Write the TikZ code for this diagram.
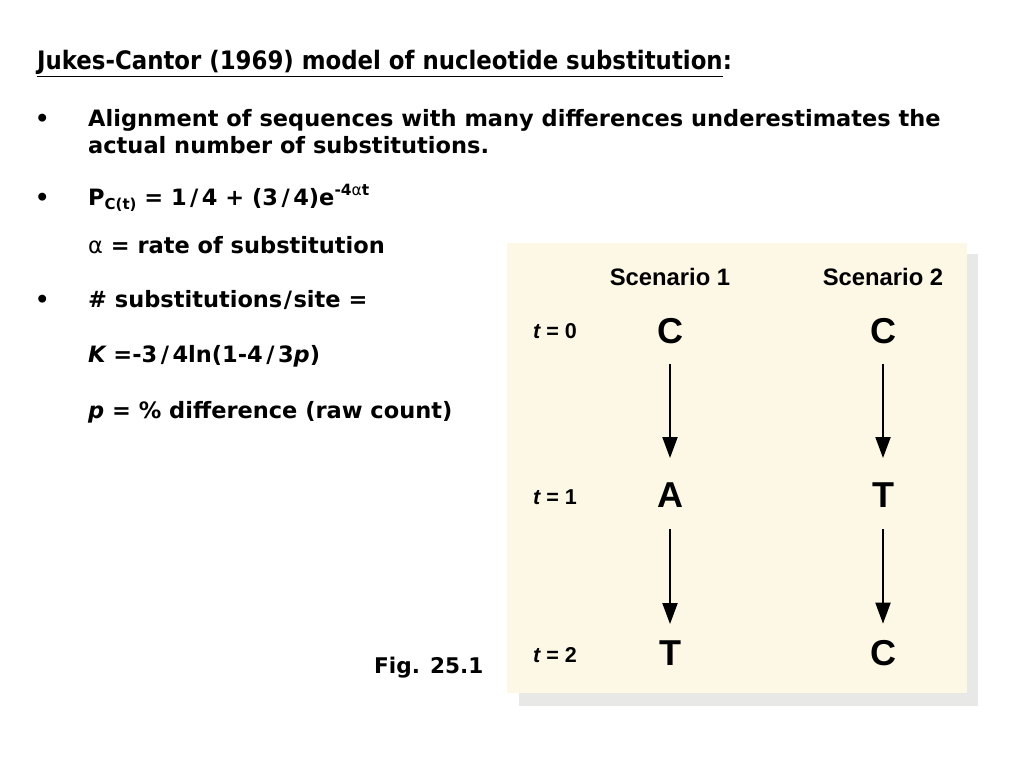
\documentclass[tikz,border=0pt]{standalone}
\usepackage{fontspec}
\setmainfont{DejaVu Sans}
\newfontfamily\titlefont{DejaVu Sans Condensed}
\newfontfamily\figfont{Liberation Sans}
\usetikzlibrary{arrows.meta}
\definecolor{cream}{RGB}{253,247,229}
\definecolor{shadowgrey}{RGB}{232,232,230}
\newcommand{\wslash}{\kern3.5pt/\kern3.5pt}
\begin{document}
\begin{tikzpicture}[x=1pt,y=-1pt,
  body/.style={anchor=base west, inner sep=0pt, font=\fontsize{22.5}{26}\selectfont\bfseries},
  titletext/.style={anchor=base west, inner sep=0pt, font=\titlefont\fontsize{25.4}{28}\selectfont\bfseries},
  figlab/.style={anchor=base west, inner sep=0pt, font=\fontsize{21.6}{24}\selectfont\bfseries},
  scen/.style={anchor=base, inner sep=0pt, font=\figfont\fontsize{23.8}{26}\selectfont\bfseries},
  tlab/.style={anchor=base west, inner sep=0pt, font=\figfont\fontsize{21.5}{24}\selectfont\bfseries},
  nuc/.style={anchor=base, inner sep=0pt, text depth=0pt, font=\figfont\fontsize{36}{38}\selectfont\bfseries},
  subst/.style={draw=black, line width=2pt, -{Triangle[length=21pt,width=15pt]}}]
\useasboundingbox (0,0) rectangle (1024,768);
\fill[white] (0,0) rectangle (1024,768);
% text
\node[titletext] (title) at (37,70) {\underline{Jukes-Cantor (1969) model of nucleotide substitution}:};
\node[body] (b1) at (35,126) {•};
\node[body] (l1) at (88,126) {Alignment of sequences with many differences underestimates the};
\node[body] (l2) at (88,153) {actual number of substitutions.};
\node[body] (b2) at (35,205) {•};
\node[body] (l3) at (88,205) {P\raisebox{-0.35ex}{\fontsize{15}{15}\selectfont C(t)} = 1\wslash 4 + (3\wslash 4)e\raisebox{0.42em}{\fontsize{15.5}{16}\selectfont -4{\mdseries α}t}};
\node[body] (l4) at (88,253) {{\mdseries α} = rate of substitution};
\node[body] (b3) at (35,307) {•};
\node[body] (l5) at (88,307) {\# substitutions\kern1.5pt/\kern1.5pt site =};
\node[body] (l6) at (88,362) {\itshape K\upshape{} =-3\wslash 4ln(1-4\wslash 3\itshape p\upshape)};
\node[body] (l7) at (88,418) {\itshape p\upshape{} = \% difference (raw count)};
\node[figlab] (fig) at (374,673) {Fig. 25.1};
% panel
\fill[shadowgrey] (519,254) rectangle (978,706);
\fill[cream] (507,243) rectangle (967,693);
\node[scen] (s1) at (670,285) {Scenario 1};
\node[scen] (s2) at (883,285) {Scenario 2};
\node[tlab] (t0) at (533,338) {\itshape t\upshape{} = 0};
\node[tlab] (t1) at (533,504) {\itshape t\upshape{} = 1};
\node[tlab] (t2) at (533,662) {\itshape t\upshape{} = 2};
\node[nuc] (c10) at (670,343) {C};
\node[nuc] (c11) at (670,507) {A};
\node[nuc] (c12) at (670,665) {T};
\node[nuc] (c20) at (883,343) {C};
\node[nuc] (c21) at (883,507) {T};
\node[nuc] (c22) at (883,665) {C};
\draw[subst, shorten <=21pt, shorten >=24pt] (c10.south) -- (c11.north);
\draw[subst, shorten <=22pt, shorten >=16pt] (c11.south) -- (c12.north);
\draw[subst, shorten <=21pt, shorten >=24pt] (c20.south) -- (c21.north);
\draw[subst, shorten <=22pt, shorten >=16pt] (c21.south) -- (c22.north);
\end{tikzpicture}
\end{document}
